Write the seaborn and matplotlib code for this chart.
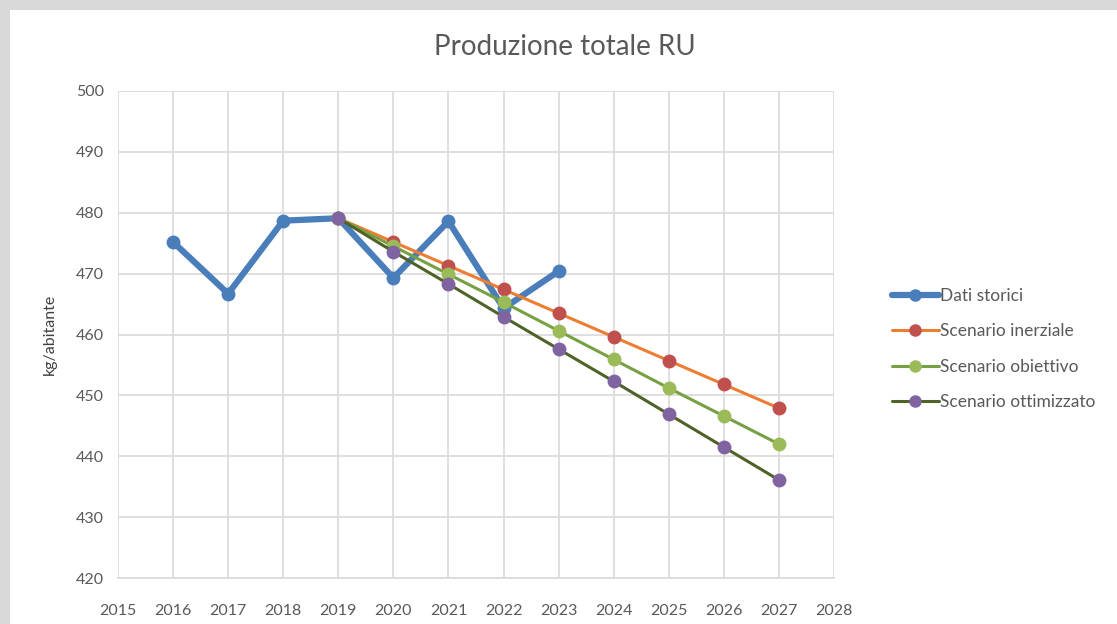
import matplotlib
matplotlib.use("Agg")
import matplotlib.pyplot as plt
import seaborn as sns
import pandas as pd
from matplotlib.patches import Rectangle
from matplotlib.lines import Line2D

sns.set_theme(style="white")
plt.rcParams['font.family'] = ['Lato', 'DejaVu Sans']

anni_storici = [2016, 2017, 2018, 2019, 2020, 2021, 2022, 2023]
dati_storici = [475.2, 466.7, 478.7, 479.1, 469.3, 478.6, 464.3, 470.4]

anni_scenari = [2019, 2020, 2021, 2022, 2023, 2024, 2025, 2026, 2027]
scen_inerziale = [479.1, 475.2, 471.3, 467.4, 463.5, 459.6, 455.7, 451.8, 447.9]
scen_obiettivo = [479.1, 474.5, 469.9, 465.3, 460.6, 455.9, 451.2, 446.6, 442.0]
scen_ottimizzato = [479.1, 473.6, 468.3, 462.9, 457.6, 452.3, 446.9, 441.5, 436.1]

x_ticks = list(range(2015, 2029))
y_ticks = list(range(420, 501, 10))

fig = plt.figure(figsize=(11.17, 6.24), dpi=100)
fig.patch.set_facecolor('#d9d9d9')
fig.patches.append(Rectangle((10/1117, 0), 1, 1 - 10/624, transform=fig.transFigure,
                             facecolor='white', edgecolor='none', zorder=-1))
ax = fig.add_axes([118/1117, 1 - 578/624, (834-118)/1117, (578-91)/624])

series = [
    ("Scenario inerziale", anni_scenari, scen_inerziale, '#ED7D31', '#C0504D', 2.2),
    ("Scenario obiettivo", anni_scenari, scen_obiettivo, '#77A043', '#9BBB59', 2.2),
    ("Scenario ottimizzato", anni_scenari, scen_ottimizzato, '#4F6228', '#8064A2', 2.2),
]

sns.lineplot(x=anni_storici, y=dati_storici, ax=ax, color='#4A7EBB', linewidth=4.5,
             marker='o', markersize=10, markeredgewidth=0, zorder=3)
for name, xs, ys, lc, mc, lw in series:
    sns.lineplot(x=xs, y=ys, ax=ax, color=lc, linewidth=lw, marker='o', markersize=10,
                 markerfacecolor=mc, markeredgewidth=0, zorder=4)

ax.set_xlim(2015, 2028)
ax.set_ylim(420, 500)
ax.set_xticks(x_ticks)
ax.set_yticks(y_ticks)
ax.grid(True, color='#d9d9d9', linewidth=1.2)
for s in ['top', 'right', 'left']:
    ax.spines[s].set_visible(False)
ax.spines['bottom'].set_color('#d9d9d9')
ax.spines['bottom'].set_linewidth(1.2)
ax.tick_params(axis='both', colors='#595959', labelsize=11.5, length=0)
ax.tick_params(axis='x', pad=19)
ax.tick_params(axis='y', pad=10)
ax.set_xlabel('')
ax.set_ylabel('kg/abitante', color='#404040', fontsize=11.5, labelpad=14)
fig.text(565/1117, 1 - 47/624, 'Produzione totale RU', ha='center', va='center',
         fontsize=20, color='#595959')

handles = [
    Line2D([0], [0], color='#4A7EBB', linewidth=4.5, marker='o', markersize=9, markeredgewidth=0),
    Line2D([0], [0], color='#ED7D31', linewidth=2.2, marker='o', markersize=9,
           markerfacecolor='#C0504D', markeredgewidth=0),
    Line2D([0], [0], color='#77A043', linewidth=2.2, marker='o', markersize=9,
           markerfacecolor='#9BBB59', markeredgewidth=0),
    Line2D([0], [0], color='#4F6228', linewidth=2.2, marker='o', markersize=9,
           markerfacecolor='#8064A2', markeredgewidth=0),
]
labels = ["Dati storici", "Scenario inerziale", "Scenario obiettivo", "Scenario ottimizzato"]
leg = fig.legend(handles, labels, loc='center left', bbox_to_anchor=(876/1117, 1 - 349/624),
                 frameon=False, fontsize=12.5, handlelength=2.7, handletextpad=0.1,
                 labelspacing=1.12, labelcolor='#595959')

fig.savefig('out.png', dpi=100)
